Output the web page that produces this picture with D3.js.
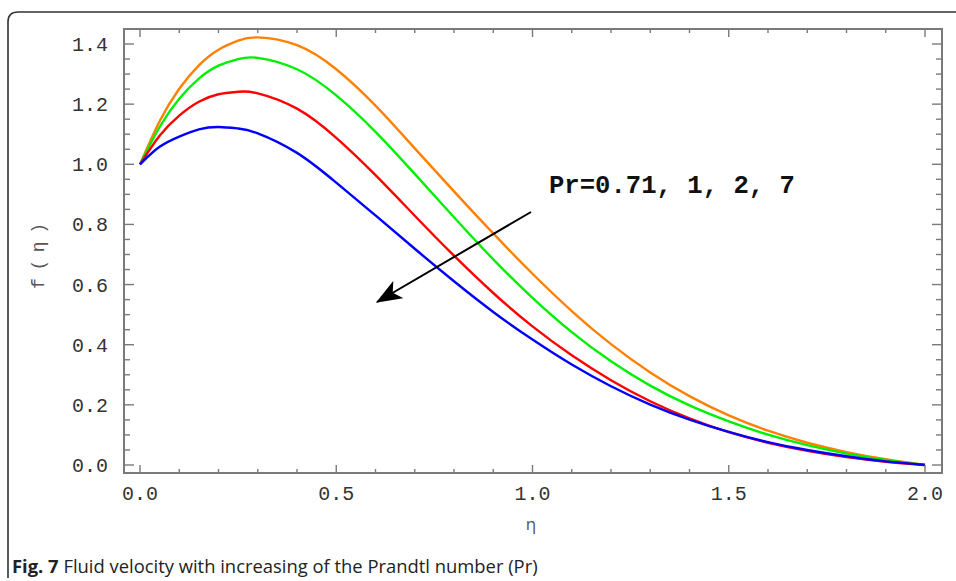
<!DOCTYPE html>
<html><head><meta charset="utf-8">
<script src="https://cdn.jsdelivr.net/npm/d3@7"></script>
<style>body{margin:0;background:#fff}svg{display:block}</style>
</head><body>
<svg id="c" width="956" height="581"></svg>
<script>
const eta = [0,0.05,0.1,0.15,0.2,0.25,0.3,0.4,0.5,0.6,0.7,0.8,0.9,1.0,1.1,1.2,1.3,1.4,1.5,1.6,1.7,1.8,1.9,2.0];
const prOrange = [1,1.143,1.251,1.329,1.381,1.411,1.422,1.396,1.316,1.195,1.053,0.91,0.77,0.636,0.512,0.402,0.308,0.229,0.165,0.114,0.074,0.043,0.019,0];
const prGreen  = [1,1.124,1.218,1.285,1.328,1.35,1.354,1.316,1.229,1.108,0.968,0.824,0.684,0.556,0.442,0.345,0.264,0.198,0.145,0.101,0.066,0.038,0.017,0];
const prRed    = [1,1.095,1.162,1.208,1.233,1.241,1.236,1.185,1.088,0.964,0.829,0.696,0.572,0.461,0.365,0.282,0.212,0.155,0.109,0.074,0.047,0.026,0.011,0];
const prBlue   = [1,1.058,1.092,1.116,1.124,1.119,1.103,1.038,0.939,0.83,0.719,0.611,0.509,0.417,0.334,0.262,0.201,0.151,0.11,0.076,0.05,0.029,0.012,0];
const seriesColors = ["#ff8000","#00ee00","#ff0000","#0000ff"];
const xTicks = [0,0.5,1,1.5,2];
const yTicks = [0,0.2,0.4,0.6,0.8,1.0,1.2,1.4];
const annotation = "Pr=0.71, 1, 2, 7";
const captionBold = "Fig. 7";
const captionText = " Fluid velocity with increasing of the Prandtl number (Pr)";

const svg = d3.select("#c");
const L=124, R=942, T=29, B=473;
const x = d3.scaleLinear().domain([0,2]).range([140,925]);
const y = d3.scaleLinear().domain([0,1.4]).range([465,44]);

// outer figure frame
svg.append("path").attr("d","M8,578 L8,22 Q8,12 18,12 L956,12")
  .attr("fill","none").attr("stroke","#333").attr("stroke-width",1.6);

// curves
const line = d3.line().x(d=>x(d[0])).y(d=>y(d[1])).curve(d3.curveNatural);
[prOrange,prGreen,prRed,prBlue].forEach((s,i)=>{
  svg.append("path").datum(eta.map((e,j)=>[e,s[j]]))
    .attr("d",line).attr("fill","none").attr("stroke",seriesColors[i]).attr("stroke-width",2.4);
});

// plot frame
const axCol="#7a7a7a";
svg.append("rect").attr("x",L).attr("y",T).attr("width",R-L).attr("height",B-T)
  .attr("fill","none").attr("stroke",axCol).attr("stroke-width",2);

// ticks
const g = svg.append("g").attr("stroke",axCol).attr("stroke-width",1.4);
const xMinor = d3.range(0,2.0001,0.1);
xMinor.forEach(v=>{
  const major = Math.abs(v*2-Math.round(v*2))<1e-6;
  const len = major?8:4;
  g.append("line").attr("x1",x(v)).attr("x2",x(v)).attr("y1",B).attr("y2",B-len);
  g.append("line").attr("x1",x(v)).attr("x2",x(v)).attr("y1",T).attr("y2",T+len);
});
const yMinor = d3.range(0,1.4501,0.05);
yMinor.forEach(v=>{
  const major = Math.abs(v*5-Math.round(v*5))<1e-6;
  const len = major?10:6;
  g.append("line").attr("y1",y(v)).attr("y2",y(v)).attr("x1",L).attr("x2",L+len);
  g.append("line").attr("y1",y(v)).attr("y2",y(v)).attr("x1",R).attr("x2",R-len);
});

// tick labels
const mono = "'Liberation Mono', 'DejaVu Sans Mono', monospace";
svg.append("g").selectAll("text").data(xTicks).join("text")
  .attr("x",d=>x(d)).attr("y",500).attr("text-anchor","middle")
  .attr("font-family",mono).attr("font-size",20).attr("fill","#333")
  .text(d=>d3.format(".1f")(d));
svg.append("g").selectAll("text").data(yTicks).join("text")
  .attr("x",108).attr("y",d=>y(d)+7).attr("text-anchor","end")
  .attr("font-family",mono).attr("font-size",20).attr("fill","#333")
  .text(d=>d3.format(".1f")(d));

// axis labels
svg.append("text").attr("transform","translate(44,256) rotate(-90)")
  .attr("text-anchor","middle").attr("font-family",mono).attr("font-size",18)
  .attr("textLength",66).attr("lengthAdjust","spacing")
  .attr("fill","#555").text("f(η)");
svg.append("text").attr("x",531).attr("y",530).attr("text-anchor","middle")
  .attr("font-family","'Open Sans', sans-serif").attr("font-size",17).attr("fill","#555").text("η");

// annotation
svg.append("text").attr("x",549).attr("y",193)
  .attr("font-family",mono).attr("font-weight","bold").attr("font-size",25)
  .attr("textLength",246).attr("lengthAdjust","spacingAndGlyphs")
  .attr("fill","#111").text(annotation);

// arrow
const defs = svg.append("defs");
defs.append("marker").attr("id","ah").attr("viewBox","0 0 10 10").attr("refX",9.5).attr("refY",5)
  .attr("markerWidth",26).attr("markerHeight",20).attr("markerUnits","userSpaceOnUse")
  .attr("orient","auto").attr("preserveAspectRatio","none")
  .append("path").attr("d","M0,0 L10,5 L0,10 L2.5,5 Z").attr("fill","#000");
svg.append("line").attr("x1",531).attr("y1",212).attr("x2",377).attr("y2",302)
  .attr("stroke","#000").attr("stroke-width",2).attr("marker-end","url(#ah)");

// caption
const cap = svg.append("text").attr("x",12).attr("y",573)
  .attr("font-family","'Open Sans', sans-serif").attr("font-size",18.4).attr("fill","#222");
cap.append("tspan").attr("font-weight","bold").text(captionBold);
cap.append("tspan").text(captionText);
</script>
</body></html>
